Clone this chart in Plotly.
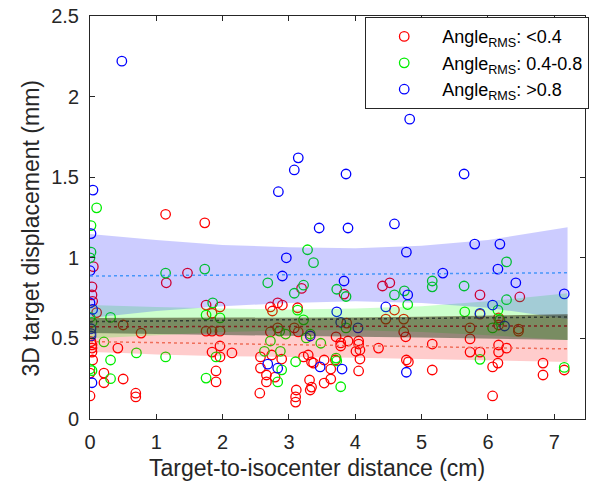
import plotly.graph_objects as go

# ---- scatter data (x: cm, y: mm) ----
red_x = [1.14, 1.73, 1.47, 1.15, 0.05, 0.03, 0.03, 0.04, 0.10, 0.015, 0.03, 0.03, 0.03, 0.04, 0.0, 0.0,
         0.50, 0.77, 0.42, 0.21, 0.21, 0.50, 0.69, 0.69, 1.75, 1.84, 1.96, 1.75, 1.84, 1.96, 1.96, 1.84,
         1.96, 2.14, 2.57, 1.90, 1.90, 2.56,
         4.41, 4.52, 3.19, 3.83, 2.72, 2.75, 2.83, 2.90, 3.13, 3.87, 4.59, 4.46, 4.73, 2.83, 3.08, 3.14,
         2.72, 4.73, 4.76, 3.71, 3.78, 3.89, 3.78, 4.05, 4.05, 4.07, 4.01, 4.07, 4.05, 4.35, 5.16, 5.16,
         4.77, 4.80, 2.57, 2.74, 2.89, 2.66, 2.66, 2.79, 3.22, 3.29, 3.34, 3.31, 3.32, 3.34, 3.11, 3.10,
         3.10, 3.53, 3.63, 3.63, 3.53, 3.37, 3.70,
         5.88, 6.48, 5.88, 6.16, 6.16, 5.73, 6.46, 6.46, 5.73, 6.16, 6.28, 5.73, 5.88, 6.16, 6.15, 6.07,
         6.83, 6.83, 7.15, 6.07]
red_y = [1.27, 1.217, 0.905, 0.845, 0.945, 0.82, 0.77, 0.73, 0.66, 0.48, 0.46, 0.44, 0.415, 0.366, 0.285, 0.143,
         0.583, 0.533, 0.44, 0.285, 0.225, 0.248, 0.16, 0.137, 0.707, 0.656, 0.695, 0.545, 0.545, 0.545, 0.453, 0.415,
         0.385, 0.41, 0.385, 0.298, 0.23, 0.16,
         0.825, 0.845, 0.81, 0.775, 0.695, 0.67, 0.72, 0.707, 0.69, 0.595, 0.676, 0.62, 0.62, 0.565, 0.565, 0.54,
         0.54, 0.54, 0.51, 0.51, 0.472, 0.484, 0.453, 0.484, 0.465, 0.428, 0.42, 0.372, 0.298, 0.44, 0.465, 0.304,
         0.366, 0.354, 0.316, 0.397, 0.372, 0.273, 0.23, 0.26, 0.385, 0.397, 0.354, 0.242, 0.18, 0.198, 0.18, 0.137,
         0.105, 0.366, 0.31, 0.248, 0.223, 0.347, 0.366,
         0.77, 0.757, 0.65, 0.627, 0.583, 0.565, 0.558, 0.545, 0.497, 0.459, 0.44, 0.415, 0.415, 0.415, 0.347, 0.323,
         0.347, 0.273, 0.304, 0.143]

green_x = [0.10, 0.015, 0.015, 0.0, 1.14, 1.73, 3.28, 3.37, 2.68, 3.08, 3.22, 3.72, 3.86, 4.59, 4.74, 5.16,
           5.16, 6.28, 5.64, 6.28, 4.79, 3.13, 3.22, 3.86, 2.86, 2.95, 3.26, 3.32, 2.72, 3.48, 2.63, 2.87,
           3.10, 3.71, 3.72, 2.89, 2.83, 3.78, 5.65, 6.15, 6.18, 6.07, 5.88, 7.15, 0.31, 0.0, 0.03, 0.21,
           0.70, 1.14, 0.31, 0.0, 0.03, 0.31, 1.85, 1.75, 1.96, 1.90, 1.75]
green_y = [1.31, 1.20, 1.035, 1.0, 0.905, 0.93, 1.05, 0.97, 0.845, 0.78, 0.83, 0.805, 0.76, 0.77, 0.795, 0.856,
           0.82, 0.975, 0.825, 0.74, 0.71, 0.675, 0.615, 0.565, 0.545, 0.527, 0.503, 0.527, 0.484, 0.47, 0.42, 0.42,
           0.355, 0.378, 0.36, 0.305, 0.23, 0.20, 0.665, 0.675, 0.615, 0.565, 0.37, 0.32, 0.63, 0.63, 0.60, 0.478,
           0.41, 0.385, 0.366, 0.31, 0.30, 0.25, 0.72, 0.645, 0.627, 0.385, 0.254]

blue_x = [0.48, 4.82, 3.14, 3.08, 3.86, 2.84, 5.64, 3.455, 3.89, 4.59, 5.80, 6.18, 0.045, 0.015, 0.0, 2.96,
          4.77, 2.90, 5.32, 3.83, 6.15, 6.42, 7.15, 4.79, 4.46, 3.72, 3.78, 4.04, 3.32, 2.68, 2.83, 3.47,
          3.80, 4.77, 6.07, 5.88, 6.25, 0.0, 0.04, 0.015, 0.015, 0.015, 0.03]
blue_y = [2.22, 1.86, 1.62, 1.545, 1.52, 1.41, 1.52, 1.185, 1.185, 1.21, 1.085, 1.085, 1.42, 1.15, 0.92, 1.0,
          1.035, 0.887, 0.905, 0.856, 0.93, 0.845, 0.776, 0.77, 0.695, 0.665, 0.60, 0.565, 0.515, 0.34, 0.315, 0.323,
          0.31, 0.29, 0.707, 0.655, 0.577, 0.72, 0.68, 0.56, 0.53, 0.515, 0.225]

# ---- fitted bands / lines ----
band_x = [0, 0.5, 1, 2, 3, 4, 5, 6, 7.2]
blue_hi = [1.148, 1.13, 1.11, 1.08, 1.065, 1.06, 1.075, 1.11, 1.19]
blue_lo = [0.626, 0.65, 0.67, 0.70, 0.72, 0.73, 0.72, 0.69, 0.62]
green_hi = [0.707, 0.70, 0.695, 0.685, 0.68, 0.685, 0.70, 0.73, 0.78]
green_lo = [0.50, 0.51, 0.52, 0.54, 0.55, 0.55, 0.54, 0.52, 0.49]
red_hi = [0.627, 0.627, 0.627, 0.627, 0.627, 0.63, 0.635, 0.64, 0.65]
red_lo = [0.415, 0.41, 0.40, 0.39, 0.385, 0.38, 0.375, 0.365, 0.354]
dark_hi = [0.627, 0.627, 0.627, 0.627, 0.627, 0.63, 0.635, 0.64, 0.65]
dark_lo = [0.533, 0.53, 0.525, 0.52, 0.515, 0.51, 0.505, 0.50, 0.49]

line_x = [0, 7.2]
blue_line = [0.887, 0.907]
gray_line = [0.604, 0.633]
darkred_line = [0.572, 0.577]
red_line = [0.48, 0.435]

x_title = "Target-to-isocenter distance (cm)"
y_title = "3D target displacement (mm)"

fig = go.Figure()

mk = dict(size=9.5, line=dict(width=1.3))
sub = "Angle<sub>RMS</sub>: "
fig.add_trace(go.Scatter(x=red_x, y=red_y, mode="markers", name=sub + "&lt;0.4",
                         marker=dict(symbol="circle-open", color="#ff0000", **mk)))
fig.add_trace(go.Scatter(x=green_x, y=green_y, mode="markers", name=sub + "0.4-0.8",
                         marker=dict(symbol="circle-open", color="#00ee00", **mk)))
fig.add_trace(go.Scatter(x=blue_x, y=blue_y, mode="markers", name=sub + "&gt;0.8",
                         marker=dict(symbol="circle-open", color="#0000ff", **mk)))

def band(lo, hi, color):
    fig.add_trace(go.Scatter(x=band_x + band_x[::-1], y=hi + lo[::-1], fill="toself",
                             fillcolor=color, line=dict(width=0), mode="lines",
                             showlegend=False, hoverinfo="skip"))

band(red_lo, red_hi, "rgba(255,0,0,0.2)")
band(green_lo, green_hi, "rgba(0,255,0,0.2)")
band(blue_lo, blue_hi, "rgba(0,0,255,0.2)")
band(dark_lo, dark_hi, "rgba(20,50,20,0.45)")

def dline(y, color):
    fig.add_trace(go.Scatter(x=line_x, y=y, mode="lines", line=dict(color=color, width=1.5, dash="dot"),
                             showlegend=False, hoverinfo="skip"))

dline(blue_line, "rgb(70,150,250)")
dline(gray_line, "rgb(50,60,50)")
dline(darkred_line, "rgb(130,30,30)")
dline(red_line, "rgb(240,110,90)")

axcol = "#262626"
fig.update_layout(
    width=590, height=487,
    margin=dict(l=90, r=1, t=16, b=68),
    paper_bgcolor="white", plot_bgcolor="white",
    font=dict(family="Liberation Sans, Arial, sans-serif", color=axcol, size=20),
    legend=dict(x=0.556, y=0.997, xanchor="left", yanchor="top",
                bordercolor=axcol, borderwidth=1, bgcolor="white",
                font=dict(size=18, color="black"), itemwidth=66, tracegroupgap=0),
    xaxis=dict(range=[0, 7.463], tickvals=[0, 1, 2, 3, 4, 5, 6, 7], showgrid=False, zeroline=False,
               showline=True, linecolor=axcol, linewidth=1, mirror="ticks", ticks="inside",
               ticklen=5, tickcolor=axcol, ticklabelstandoff=5, automargin=False,
               tickfont=dict(size=20)),
    yaxis=dict(range=[0, 2.5], tickvals=[0, 0.5, 1, 1.5, 2, 2.5], ticktext=["0", "0.5", "1", "1.5", "2", "2.5"],
               showgrid=False, zeroline=False, automargin=False,
               showline=True, linecolor=axcol, linewidth=1, mirror="ticks", ticks="inside",
               ticklen=5, tickcolor=axcol, ticklabelstandoff=6,
               tickfont=dict(size=20)),
    annotations=[
        dict(text=x_title, xref="paper", yref="paper", x=0.459, y=-0.122, xanchor="center", yanchor="middle",
             showarrow=False, font=dict(size=23, color=axcol)),
        dict(text=y_title, xref="paper", yref="paper", x=-0.12, y=0.474, xanchor="center", yanchor="middle",
             textangle=-90, showarrow=False, font=dict(size=23, color=axcol)),
    ],
)

fig.write_html("out.html")
